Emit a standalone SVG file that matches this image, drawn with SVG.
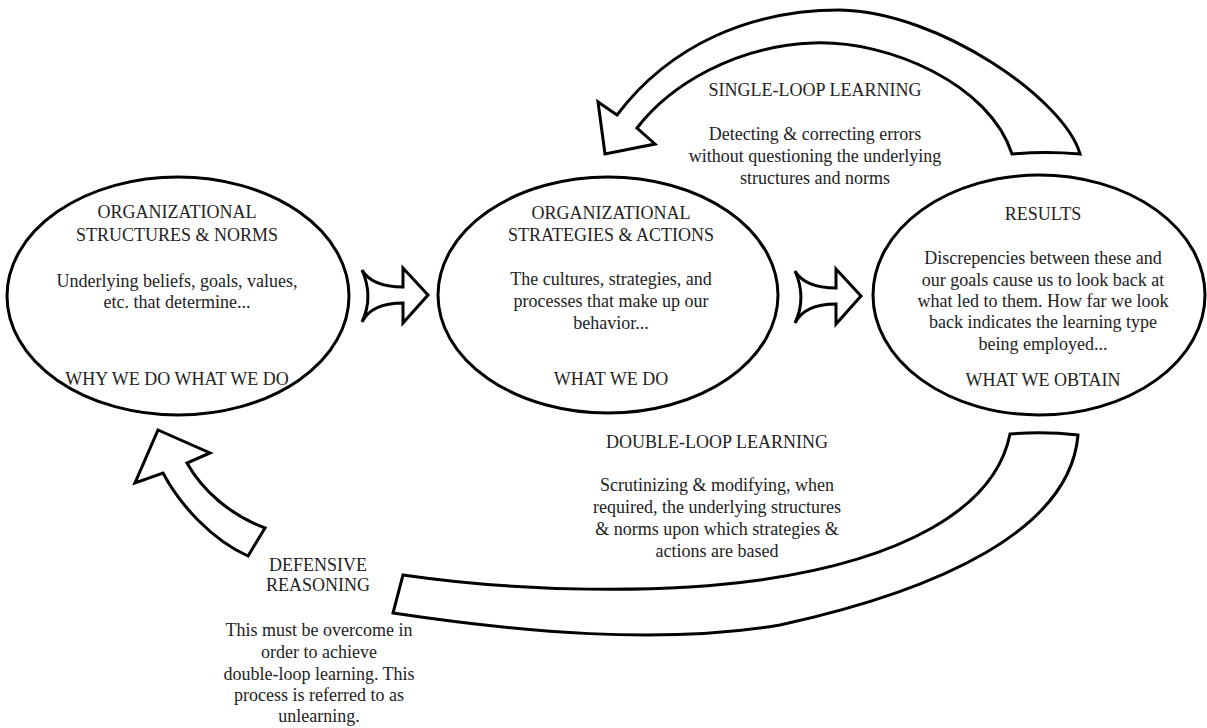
<svg xmlns="http://www.w3.org/2000/svg" width="1207" height="728" viewBox="0 0 1207 728">
<style>
.shape{fill:#fff;stroke:#000;stroke-width:3;stroke-linejoin:miter}
.t{font-family:"Liberation Serif","Times New Roman",serif;font-size:18px;fill:#222;text-anchor:middle}
</style>
<rect width="1207" height="728" fill="#fff"/>
<g id="connectors">
  <path id="single-loop-arrow" class="shape" d="M1012,154 C990,85 890,40 813,43 C735,46 670,85 637,128 L655,144 L605,154 L598,102 L617,115 C670,45 750,10 840,10 C940,12 1065,100 1080,154 Q1046,151 1012,154 Z"/>
  <path id="double-loop-band" class="shape" d="M1010,434 C995,510 900,560 760,580 C660,594 520,592 403,575 L393,613 C520,632 660,645 780,625 C940,590 1070,530 1078,435 Q1044,431 1010,434 Z"/>
  <path id="defensive-arrow" class="shape" d="M158,430 L210,453 L187,463 C202,490 230,515 265,528 L248,556 C212,540 180,505 163,473 L135,483 Z"/>
  <path id="arrow-1" class="shape" d="M362,270 C368,280 380,287 403,287 L403,268 L428,295 L403,323 L403,303 C380,303 368,310 362,322 C370,305 370,288 362,270 Z"/>
  <path id="arrow-2" class="shape" transform="translate(433,1)" d="M362,270 C368,280 380,287 403,287 L403,268 L428,295 L403,323 L403,303 C380,303 368,310 362,322 C370,305 370,288 362,270 Z"/>
</g>
<g id="node-structures">
  <ellipse class="shape" cx="178" cy="296" rx="171" ry="119"/>
  <text class="t" x="177" y="218">ORGANIZATIONAL</text>
  <text class="t" x="177" y="241">STRUCTURES &amp; NORMS</text>
  <text class="t" x="177" y="287">Underlying beliefs, goals, values,</text>
  <text class="t" x="177" y="308">etc. that determine...</text>
  <text class="t" x="177" y="385">WHY WE DO WHAT WE DO</text>
</g>
<g id="node-strategies">
  <ellipse class="shape" cx="608" cy="295" rx="170" ry="118"/>
  <text class="t" x="611" y="219">ORGANIZATIONAL</text>
  <text class="t" x="611" y="241">STRATEGIES &amp; ACTIONS</text>
  <text class="t" x="611" y="285">The cultures, strategies, and</text>
  <text class="t" x="611" y="307">processes that make up our</text>
  <text class="t" x="611" y="329">behavior...</text>
  <text class="t" x="611" y="385">WHAT WE DO</text>
</g>
<g id="node-results">
  <ellipse class="shape" cx="1039" cy="295" rx="166" ry="120"/>
  <text class="t" x="1043" y="220">RESULTS</text>
  <text class="t" x="1043" y="264">Discrepencies between these and</text>
  <text class="t" x="1043" y="286">our goals cause us to look back at</text>
  <text class="t" x="1043" y="307">what led to them. How far we look</text>
  <text class="t" x="1043" y="328">back indicates the learning type</text>
  <text class="t" x="1043" y="350">being employed...</text>
  <text class="t" x="1043" y="386">WHAT WE OBTAIN</text>
</g>
<g id="label-single-loop">
  <text class="t" x="815" y="96">SINGLE-LOOP LEARNING</text>
  <text class="t" x="815" y="140">Detecting &amp; correcting errors</text>
  <text class="t" x="815" y="162">without questioning the underlying</text>
  <text class="t" x="815" y="184">structures and norms</text>
</g>
<g id="label-double-loop">
  <text class="t" x="717" y="448">DOUBLE-LOOP LEARNING</text>
  <text class="t" x="717" y="491">Scrutinizing &amp; modifying, when</text>
  <text class="t" x="717" y="513">required, the underlying structures</text>
  <text class="t" x="717" y="535">&amp; norms upon which strategies &amp;</text>
  <text class="t" x="717" y="557">actions are based</text>
</g>
<g id="label-defensive">
  <text class="t" x="318" y="571">DEFENSIVE</text>
  <text class="t" x="318" y="591">REASONING</text>
  <text class="t" x="319" y="636">This must be overcome in</text>
  <text class="t" x="319" y="658">order to achieve</text>
  <text class="t" x="319" y="680">double-loop learning. This</text>
  <text class="t" x="319" y="701">process is referred to as</text>
  <text class="t" x="319" y="722">unlearning.</text>
</g>
</svg>
